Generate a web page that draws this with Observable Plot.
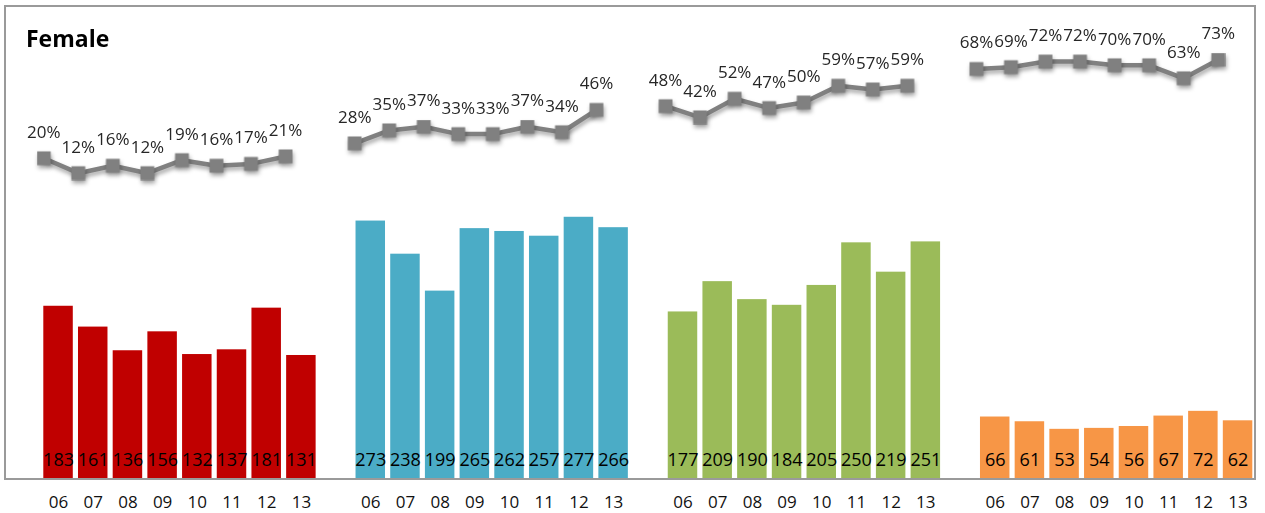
<!DOCTYPE html>
<html>
<head>
<meta charset="utf-8">
<script src="https://cdn.jsdelivr.net/npm/d3@7"></script>
<script src="https://cdn.jsdelivr.net/npm/@observablehq/plot@0.6"></script>
<style>
  body { margin: 0; background: #fff; font-family: "Open Sans", sans-serif; }
  #wrap { position: relative; width: 1265px; height: 513px; overflow: hidden; }
  #wrap svg { position: absolute; left: 0; top: 0; }
  #frame { position: absolute; left: 4px; top: 5px; width: 1252px; height: 475px; border: 2px solid #9a9a9a; box-sizing: border-box; pointer-events: none; }
  #title { position: absolute; left: 26px; top: 27px; font: bold 23px/23px "Open Sans", sans-serif; color: #000; }
</style>
</head>
<body>
<div id="wrap">
  <div id="frame"></div>
  <div id="title">Female</div>
</div>
<script>
// ---- data ----
const years = ["06", "07", "08", "09", "10", "11", "12", "13"];
const groups = ["G1", "G2", "G3", "G4"];
const groupColors = ["#C00000", "#4BACC6", "#9BBB59", "#F79646"];

const counts1 = [183, 161, 136, 156, 132, 137, 181, 131];
const counts2 = [273, 238, 199, 265, 262, 257, 277, 266];
const counts3 = [177, 209, 190, 184, 205, 250, 219, 251];
const counts4 = [66, 61, 53, 54, 56, 67, 72, 62];

const pct1 = [20, 12, 16, 12, 19, 16, 17, 21];
const pct2 = [28, 35, 37, 33, 33, 37, 34, 46];
const pct3 = [48, 42, 52, 47, 50, 59, 57, 59];
const pct4 = [68, 69, 72, 72, 70, 70, 63, 73];

const countsByGroup = [counts1, counts2, counts3, counts4];
const pctByGroup = [pct1, pct2, pct3, pct4];

// ---- build table ----
const rows = groups.flatMap((g, i) => years.map((yr, j) => ({
  key: `${g}|${yr}`, group: g, year: yr,
  count: countsByGroup[i][j], pct: pctByGroup[i][j]
})));
const xDomain = [];
groups.forEach((g, i) => {
  years.forEach(yr => xDomain.push(`${g}|${yr}`));
  if (i < groups.length - 1) xDomain.push(`gap${i}`);
});

const W = 1265, H = 513, ML = 43.3, MR = 12.7;
const xOpts = { domain: xDomain, paddingInner: 0.15, paddingOuter: 0, align: 0, round: false };

const bars = Plot.plot({
  width: W, height: H,
  marginLeft: ML, marginRight: MR, marginTop: 195, marginBottom: 34,
  style: { fontFamily: "Open Sans", fontSize: "17px", background: "transparent", color: "#111" },
  x: { ...xOpts, label: null, tickSize: 0, tickPadding: 16,
       tickFormat: d => d.startsWith("gap") ? "" : d.split("|")[1] },
  y: { domain: [0, 300], axis: null },
  color: { domain: groups, range: groupColors },
  marks: [
    Plot.barY(rows, { x: "key", y: "count", fill: "group" }),
    Plot.text(rows, { x: "key", y: 0, text: d => String(d.count), dy: -19.5, fontSize: 18, fill: "#000" })
  ]
});

const line = Plot.plot({
  width: W, height: H,
  marginLeft: ML, marginRight: MR, marginTop: 9, marginBottom: 318,
  style: { fontFamily: "Open Sans", background: "transparent" },
  x: { ...xOpts, axis: null },
  y: { domain: [0, 100], axis: null },
  marks: [
    Plot.line(rows, { x: "key", y: "pct", z: "group", stroke: "#808080", strokeWidth: 4.5 }),
    Plot.dot(rows, { x: "key", y: "pct", symbol: "square", r: 7.8, fill: "#808080", stroke: "none" }),
    Plot.text(rows, { x: "key", y: "pct", text: d => d.pct + "%", dy: -26, fontSize: 17, fill: "#262626" })
  ]
});

const wrap = document.getElementById("wrap");
wrap.insertBefore(line, wrap.firstChild);
wrap.insertBefore(bars, wrap.firstChild);
d3.select(line).selectAll('g[aria-label="line"], g[aria-label="dot"]')
  .style("filter", "drop-shadow(1px 3px 2px rgba(0,0,0,0.35))");
</script>
</body>
</html>
